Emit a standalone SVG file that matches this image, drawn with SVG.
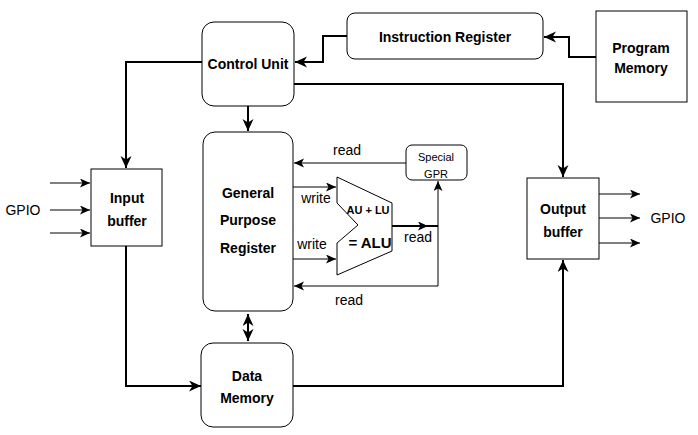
<svg xmlns="http://www.w3.org/2000/svg" width="698" height="435" viewBox="0 0 698 435">
<style>
.box{fill:#fff;stroke:#000;stroke-width:1}
.t{font-family:"Liberation Sans",Arial,sans-serif;font-size:14px;font-weight:bold;text-anchor:middle;fill:#000}
.l{font-family:"Liberation Sans",Arial,sans-serif;font-size:14px;text-anchor:middle;fill:#000}
.thick{fill:none;stroke:#000;stroke-width:2}
.thin{fill:none;stroke:#000;stroke-width:1}
</style>
<defs>
<marker id="ab" markerUnits="userSpaceOnUse" markerWidth="14" markerHeight="12" refX="12" refY="5.5" orient="auto">
<path d="M0,0 L12,5.5 L0,11 L3.5,5.5 Z" fill="#000"/>
</marker>
<marker id="as" markerUnits="userSpaceOnUse" markerWidth="12" markerHeight="10" refX="10" refY="4.5" orient="auto">
<path d="M0,0 L10,4.5 L0,9 L2.5,4.5 Z" fill="#000"/>
</marker>
<marker id="abs" markerUnits="userSpaceOnUse" markerWidth="14" markerHeight="12" refX="12" refY="5.5" orient="auto-start-reverse">
<path d="M0,0 L12,5.5 L0,11 L3.5,5.5 Z" fill="#000"/>
</marker>
</defs>
<rect width="698" height="435" fill="#fff"/>
<g id="connectors">
<path class="thick" d="M596 57 H569 V37 H544" marker-end="url(#ab)"/>
<path class="thick" d="M347 36 H323 V62 H295" marker-end="url(#ab)"/>
<path class="thick" d="M248 106 V131" marker-end="url(#ab)"/>
<path class="thick" d="M202 62 H126 V168" marker-end="url(#ab)"/>
<path class="thick" d="M294 84 H563 V177" marker-end="url(#ab)"/>
<path class="thick" d="M126 246 V386 H201" marker-end="url(#ab)"/>
<path class="thick" d="M293 386 H563 V260" marker-end="url(#ab)"/>
<path class="thick" d="M248 314 V341" marker-start="url(#abs)" marker-end="url(#abs)"/>
<path class="thin" d="M50 183 H90" marker-end="url(#as)"/>
<path class="thin" d="M50 210 H90" marker-end="url(#as)"/>
<path class="thin" d="M50 233 H90" marker-end="url(#as)"/>
<path class="thin" d="M599 194 H640" marker-end="url(#as)"/>
<path class="thin" d="M599 218 H640" marker-end="url(#as)"/>
<path class="thin" d="M599 243 H640" marker-end="url(#as)"/>
<path class="thin" d="M406 163 H294" marker-end="url(#as)"/>
<path class="thin" d="M293 187 H336" marker-end="url(#as)"/>
<path class="thin" d="M293 259 H336" marker-end="url(#as)"/>
<path class="thick" d="M392 226 H428" marker-end="url(#as)"/>
<path class="thick" d="M426 226 H438"/>
<path class="thin" d="M438 226 V286 H294" marker-end="url(#as)"/>
<path class="thin" d="M438 226 V181" marker-end="url(#as)"/>
</g>
<g id="control-unit">
<rect class="box" x="202" y="22" width="92" height="84" rx="12"/>
<text class="t" x="248" y="69">Control Unit</text>
</g>
<g id="instruction-register">
<rect class="box" x="347" y="13" width="196" height="46" rx="8"/>
<text class="t" x="445" y="42">Instruction Register</text>
</g>
<g id="program-memory">
<rect class="box" x="596" y="11" width="91" height="91"/>
<text class="t" x="641" y="53">Program</text>
<text class="t" x="641" y="73">Memory</text>
</g>
<g id="gpr">
<rect class="box" x="203" y="132" width="90" height="179" rx="12"/>
<text class="t" x="248" y="198">General</text>
<text class="t" x="248" y="225">Purpose</text>
<text class="t" x="248" y="253">Register</text>
</g>
<g id="input-buffer">
<rect class="box" x="91" y="169" width="71" height="77"/>
<text class="t" x="127" y="203">Input</text>
<text class="t" x="127" y="226">buffer</text>
<text class="l" x="23" y="215">GPIO</text>
</g>
<g id="output-buffer">
<rect class="box" x="527" y="178" width="72" height="81"/>
<text class="t" x="563" y="214">Output</text>
<text class="t" x="563" y="237">buffer</text>
<text class="l" x="668" y="223">GPIO</text>
</g>
<g id="data-memory">
<rect class="box" x="201" y="343" width="92" height="84" rx="12"/>
<text class="t" x="247" y="381">Data</text>
<text class="t" x="247" y="403">Memory</text>
</g>
<g id="special-gpr">
<rect class="box" x="406" y="145" width="61" height="35" rx="6"/>
<text class="l" x="436" y="161" style="font-size:11px">Special</text>
<text class="l" x="436" y="178" style="font-size:11px">GPR</text>
</g>
<g id="alu">
<path class="box" d="M337 177 L392 203 L392 251 L337 275 L337 243 L358 225 L337 203 Z"/>
<text class="t" x="368" y="214" style="font-size:11px">AU + LU</text>
<text class="t" x="370" y="248" style="font-size:15px">= ALU</text>
</g>
<g id="labels">
<text class="l" x="347" y="155">read</text>
<text class="l" x="316" y="203">write</text>
<text class="l" x="312" y="249">write</text>
<text class="l" x="418" y="242">read</text>
<text class="l" x="349" y="305">read</text>
</g>
</svg>
